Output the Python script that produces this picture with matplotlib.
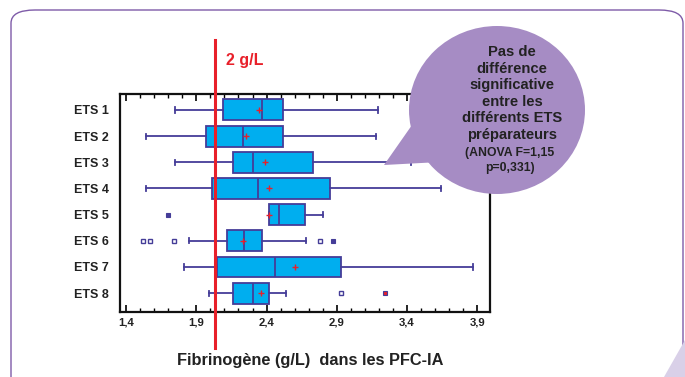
import matplotlib
matplotlib.use("Agg")
import matplotlib.pyplot as plt
from matplotlib.patches import FancyBboxPatch, Ellipse, Polygon
from matplotlib.ticker import MultipleLocator, FixedLocator
import numpy as np

plt.rcParams['font.family'] = ['Liberation Sans', 'DejaVu Sans']

categories = ["ETS 1", "ETS 2", "ETS 3", "ETS 4", "ETS 5", "ETS 6", "ETS 7", "ETS 8"]
whis_low = [1.75, 1.54, 1.75, 1.54, 2.414, 1.85, 1.81, 1.99]
q1 = [2.09, 1.97, 2.16, 2.01, 2.414, 2.12, 2.05, 2.16]
median = [2.37, 2.23, 2.30, 2.34, 2.49, 2.24, 2.46, 2.30]
q3 = [2.52, 2.52, 2.73, 2.85, 2.67, 2.37, 2.93, 2.42]
whis_high = [3.19, 3.18, 3.43, 3.64, 2.80, 2.68, 3.87, 2.535]
means = [2.345, 2.257, 2.39, 2.42, 2.416, 2.235, 2.60, 2.36]
outliers_open = [[], [], [], [], [], [1.52, 1.57, 1.74, 2.78], [], [2.93]]
outliers_filled = [[], [], [], [], [1.70], [2.87], [], [3.24]]
threshold = 2.03
threshold_label = "2 g/L"
xticks = [1.4, 1.9, 2.4, 2.9, 3.4, 3.9]
xticklabels = ["1,4", "1,9", "2,4", "2,9", "3,4", "3,9"]
xlabel = "Fibrinogène (g/L)  dans les PFC-IA"
bubble_main = "Pas de\ndifférence\nsignificative\nentre les\ndifférents ETS\npréparateurs"
bubble_stat = "(ANOVA F=1,15\np=0,331)"

box_face = "#00AEEF"
box_edge = "#453D98"
red = "#E8202A"
bubble_col = "#A68CC4"
frame_col = "#7E5BA8"

fig = plt.figure(figsize=(6.85, 3.77), dpi=100)
fig.patch.set_facecolor("white")

# outer rounded frame
frame = FancyBboxPatch((11/685, -0.2), 672/685, 1 - 10/377 + 0.2,
                       boxstyle="round,pad=0,rounding_size=0.035",
                       transform=fig.transFigure, fill=False,
                       edgecolor=frame_col, linewidth=1.0, zorder=0)
fig.patches.append(frame)
fig.patches.append(Polygon([(1.0, 1 - 340/377), (1.0, 0), (664/685, 0)],
                           closed=True, transform=fig.transFigure,
                           facecolor="#D9D0E8", edgecolor="none", zorder=0))

ax = fig.add_axes([120/685, 1 - 312/377, 370/685, 218/377])

stats = []
for i in range(len(categories)):
    stats.append(dict(label=categories[i], whislo=whis_low[i], q1=q1[i], med=median[i],
                      q3=q3[i], whishi=whis_high[i], mean=means[i], fliers=[]))
pos = np.arange(1, len(categories) + 1)
ax.bxp(stats, positions=pos, vert=False, widths=0.8, capwidths=0.2, patch_artist=True,
       showmeans=True, showfliers=False,
       boxprops=dict(facecolor=box_face, edgecolor=box_edge, linewidth=1.3),
       medianprops=dict(color=box_edge, linewidth=1.3),
       whiskerprops=dict(color=box_edge, linewidth=1.3),
       capprops=dict(color=box_edge, linewidth=1.3),
       meanprops=dict(marker="+", markeredgecolor=red, markersize=5, markeredgewidth=1.0))

for i in range(len(categories)):
    if outliers_open[i]:
        ax.plot(outliers_open[i], [pos[i]] * len(outliers_open[i]), linestyle="none",
                marker="s", markersize=3.5, markerfacecolor="white",
                markeredgecolor=box_edge, markeredgewidth=1.0)
    if outliers_filled[i]:
        fc = red if outliers_filled[i][0] > 3 else box_edge
        ax.plot(outliers_filled[i], [pos[i]] * len(outliers_filled[i]), linestyle="none",
                marker="s", markersize=3.5, markerfacecolor=fc,
                markeredgecolor=box_edge, markeredgewidth=0.8)

ax.set_xlim(1.357, 3.99)
ax.set_ylim(8.72, 0.39)
ax.set_yticks(pos)
ax.set_yticklabels(categories, fontsize=9, fontweight="bold", color="#222222")
ax.tick_params(axis="y", length=0, pad=8)
ax.xaxis.set_major_locator(FixedLocator(xticks))
ax.set_xticklabels(xticklabels, fontsize=8.2, fontweight="bold", color="#222222")
ax.xaxis.set_minor_locator(MultipleLocator(0.1))
ax.tick_params(axis="x", which="major", direction="in", length=5, width=1.2,
               top=True, bottom=True, pad=4)
ax.tick_params(axis="x", which="minor", direction="in", length=3, width=1.0,
               top=True, bottom=True)
for s in ax.spines.values():
    s.set_linewidth(1.6)
    s.set_color("#111111")

# threshold line extending beyond axes
trans = matplotlib.transforms.blended_transform_factory(ax.transData, fig.transFigure)
ax.plot([threshold, threshold], [1 - 40/377, 1 - 348/377], color=red, linewidth=2.2,
        transform=trans, clip_on=False, zorder=5)
ax.text(threshold + 0.08, 1 - 60/377, threshold_label, transform=trans, color=red,
        fontsize=11.5, fontweight="bold", va="center", ha="left")

fig.text(310/685, 1 - 360/377, xlabel, ha="center", va="center", fontsize=11.8,
         fontweight="bold", color="#222222")

# speech bubble
fig.patches.append(Polygon([(384/685, 1 - 165/377), (412/685, 1 - 125/377), (440/685, 1 - 162/377)],
                           closed=True, transform=fig.transFigure, facecolor=bubble_col,
                           edgecolor="none", zorder=10))
fig.patches.append(Ellipse((497/685, 1 - 110/377), 176/685, 168/377, transform=fig.transFigure,
                           facecolor=bubble_col, edgecolor="none", zorder=10))
fig.text(512/685, 1 - 93.5/377, bubble_main, ha="center", va="center", fontsize=10.6,
         fontweight="bold", color="#222222", linespacing=1.24, zorder=11)
fig.text(510/685, 1 - 160.5/377, bubble_stat, ha="center", va="center", fontsize=8.8,
         fontweight="bold", color="#222222", linespacing=1.28, zorder=11)

fig.savefig("out.png", dpi=100)
